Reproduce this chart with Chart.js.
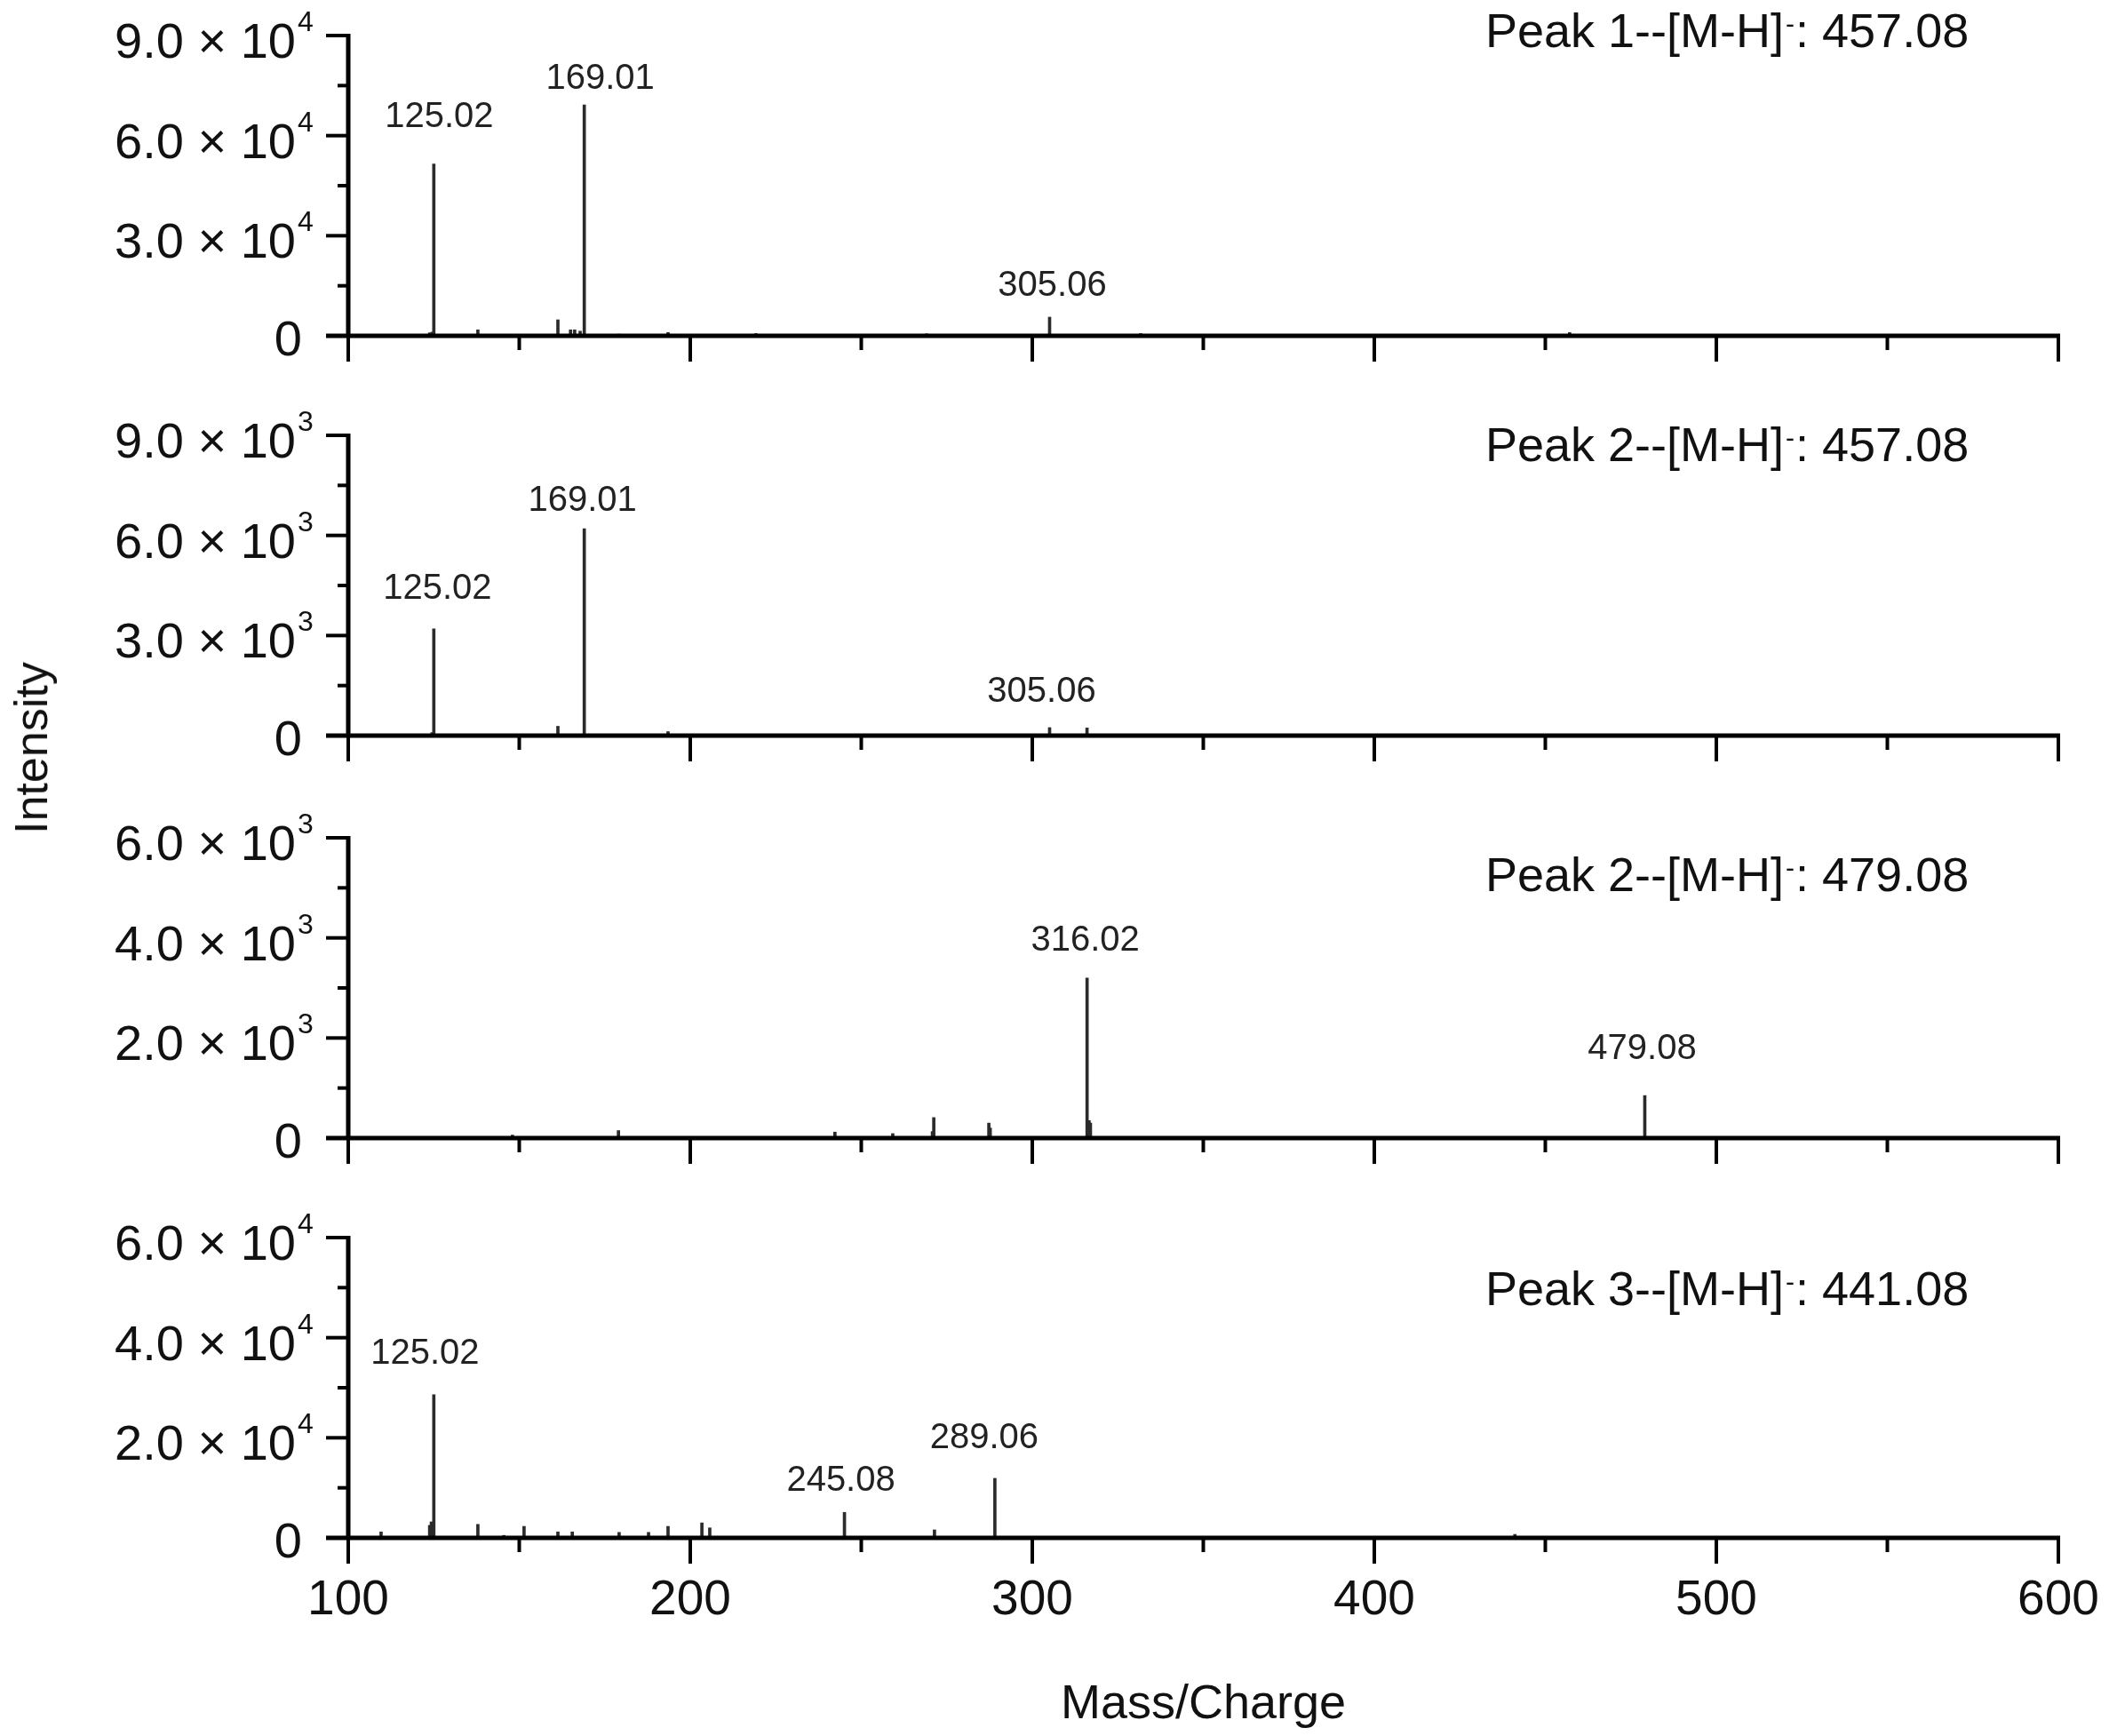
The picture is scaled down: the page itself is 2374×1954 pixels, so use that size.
<!DOCTYPE html>
<html>
<head>
<meta charset="utf-8">
<script src="https://cdn.jsdelivr.net/npm/chart.js@4.4.1/dist/chart.umd.min.js"></script>
<style>
  body { margin: 0; background: #fff; }
  #page { position: relative; width: 2374px; height: 1954px; background: #fff; overflow: hidden; }
  canvas { position: absolute; left: 0; }
  #ylab { position: absolute; left: 35px; top: 842px; transform: translate(-50%, -50%) rotate(-90deg);
          font: 52px 'Liberation Sans', Arial, sans-serif; color: #111; white-space: nowrap; }
</style>
</head>
<body>
<div id="page">
  <canvas id="p1" width="2374" height="451" style="top:0px"></canvas>
  <canvas id="p2" width="2374" height="451" style="top:450px"></canvas>
  <canvas id="p3" width="2374" height="451" style="top:903px"></canvas>
  <canvas id="p4" width="2374" height="601" style="top:1353px"></canvas>
  <div id="ylab">Intensity</div>
</div>
<script>
// spectra (m/z, intensity)
const mz1 = [123.8, 124.5, 125.02, 137.9, 161.3, 165.0, 166.2, 167.8, 169.01, 179.2, 193.5, 219.2, 269.1, 305.06, 319.2, 331.7, 457.1];
const int1 = [900, 1100, 51500, 1800, 4800, 1800, 1800, 1400, 69200, 500, 1000, 700, 600, 5600, 400, 700, 1000];

const mz2 = [124.5, 125.02, 161.3, 169.01, 193.5, 305.06, 316.0];
const int2 = [90, 3200, 280, 6200, 120, 240, 230];

const mz3 = [148.0, 179.0, 242.3, 259.2, 270.8, 271.2, 287.3, 287.7, 316.02, 316.6, 317.0, 479.08];
const int3 = [60, 150, 120, 90, 130, 410, 300, 200, 3200, 350, 300, 850];

const mz4 = [109.6, 123.8, 124.3, 124.7, 125.02, 137.9, 145.5, 151.4, 161.3, 165.5, 179.2, 187.8, 193.5, 203.4, 205.7, 245.08, 271.4, 289.06, 441.1];
const int4 = [1200, 2500, 3200, 3000, 28600, 2700, 500, 2300, 1200, 1200, 1100, 1100, 2300, 3000, 2000, 5100, 1600, 11900, 700];

// labelled peaks
const labels1 = [125.02, 169.01, 305.06];
const labels2 = [125.02, 169.01, 305.06];
const labels3 = [316.02, 479.08];
const labels4 = [125.02, 169.01, 245.08, 289.06];

// y ticks and their power of ten
const yTicks1 = [0, 30000, 60000, 90000];
const yTicks2 = [0, 3000, 6000, 9000];
const yTicks3 = [0, 2000, 4000, 6000];
const yTicks4 = [0, 20000, 40000, 60000];
const yExp = [4, 3, 3, 4];

const xTicks = [100, 200, 300, 400, 500, 600];
const xMinor = [150, 250, 350, 450, 550];

const peakNames = ['Peak 1', 'Peak 2', 'Peak 2', 'Peak 3'];
const ionMz = ['457.08', '457.08', '479.08', '441.08'];

const FONT = "'Liberation Sans', Arial, sans-serif";
Chart.defaults.font.family = FONT;
Chart.defaults.color = '#000';

// label nudges [dx, gap above bar top] and title baseline offset, in px
const nudges = [
  [[6, 42], [18, 18], [3, 24]],
  [[4, 34], [-2, 20], [-9, 29]],
  [[-2, 31], [-3, 41]],
  [[-10, 35], [46, 20], [-4, 24], [-12, 34]]
];
const titleDy = [13, 29, 60, 76];

function seg(ctx, x1, y1, x2, y2) {
  ctx.beginPath();
  ctx.moveTo(x1, y1);
  ctx.lineTo(x2, y2);
  ctx.stroke();
}

const specAxes = {
  id: 'specAxes',
  afterDatasetsDraw(chart, args, o) {
    const ctx = chart.ctx;
    const a = chart.chartArea;
    const x = chart.scales.x;
    const y = chart.scales.y;
    ctx.save();
    ctx.strokeStyle = '#000';
    ctx.lineCap = 'butt';

    // ticks
    ctx.lineWidth = 4;
    o.yTicks.forEach(v => seg(ctx, a.left - 25, y.getPixelForValue(v), a.left, y.getPixelForValue(v)));
    for (let i = 0; i < o.yTicks.length - 1; i++) {
      const py = y.getPixelForValue((o.yTicks[i] + o.yTicks[i + 1]) / 2);
      seg(ctx, a.left - 12, py, a.left, py);
    }
    xTicks.forEach(v => seg(ctx, x.getPixelForValue(v), a.bottom, x.getPixelForValue(v), a.bottom + 29));
    xMinor.forEach(v => seg(ctx, x.getPixelForValue(v), a.bottom, x.getPixelForValue(v), a.bottom + 16));

    // axis lines
    ctx.lineWidth = 5;
    seg(ctx, a.left - 25, a.bottom, a.right + 2, a.bottom);
    seg(ctx, a.left, a.top - 2, a.left, a.bottom);

    // y tick labels  "n.n x 10^e"
    ctx.fillStyle = '#111';
    ctx.textBaseline = 'alphabetic';
    o.yTicks.forEach(v => {
      const py = y.getPixelForValue(v);
      ctx.textAlign = 'right';
      ctx.font = '56px ' + FONT;
      if (v === 0) {
        ctx.fillText('0', a.left - 52, py + 22);
        return;
      }
      const m = (v / Math.pow(10, o.exp)).toFixed(1);
      ctx.fillText(m + ' \u00d7 10', a.left - 59, py + 25);
      ctx.textAlign = 'left';
      ctx.font = '32px ' + FONT;
      ctx.fillText(String(o.exp), a.left - 57, py - 5);
    });

    // panel title
    const tx = 1672;
    const ty = a.top + o.titleDy;
    ctx.textAlign = 'left';
    ctx.font = '54px ' + FONT;
    const head = o.name + '--[M-H]';
    ctx.fillText(head, tx, ty);
    let w = ctx.measureText(head).width;
    ctx.font = '30px ' + FONT;
    ctx.fillText('-', tx + w + 2, ty - 16);
    w += ctx.measureText('-').width + 3;
    ctx.font = '54px ' + FONT;
    ctx.fillText(': ' + o.ion, tx + w, ty);

    // peak labels
    ctx.font = '40px ' + FONT;
    ctx.fillStyle = '#222';
    ctx.textAlign = 'center';
    o.peaks.forEach((p, i) => {
      const k = o.mz.indexOf(p);
      const px = x.getPixelForValue(p);
      const py = y.getPixelForValue(o.ints[k]);
      ctx.fillText(p.toFixed(2), px + o.nudge[i][0], py - o.nudge[i][1]);
    });
    ctx.restore();
  }
};

function makePanel(id, idx, mz, ints, peaks, yTicks, bottomAxis) {
  const canvas = document.getElementById(id);
  const xScale = {
    type: 'linear',
    min: 100,
    max: 600,
    offset: false,
    display: bottomAxis,
    grid: { display: false, drawTicks: false, offset: false },
    border: { display: false },
    ticks: { stepSize: 100, padding: 38, color: '#111', font: { size: 55 } },
    title: {
      display: true,
      text: 'Mass/Charge',
      color: '#111',
      font: { size: 54 },
      padding: { top: 0, bottom: 2 }
    }
  };
  if (bottomAxis) {
    xScale.afterFit = s => {
      s.height = 223;
      s.paddingLeft = 0;
      s.paddingRight = 0;
    };
  }
  new Chart(canvas, {
    type: 'bar',
    data: {
      datasets: [{
        data: mz.map((m, i) => ({ x: m, y: ints[i] })),
        backgroundColor: '#2b2b2b',
        borderWidth: 0,
        barThickness: 3,
        grouped: false
      }]
    },
    options: {
      responsive: false,
      animation: false,
      devicePixelRatio: 1,
      layout: { padding: { left: 392, right: 57, top: 40, bottom: bottomAxis ? 0 : 73 } },
      scales: {
        x: xScale,
        y: { min: 0, max: yTicks[yTicks.length - 1], display: false }
      },
      plugins: {
        legend: { display: false },
        tooltip: { enabled: false },
        specAxes: {
          yTicks: yTicks,
          exp: yExp[idx],
          name: peakNames[idx],
          ion: ionMz[idx],
          titleDy: titleDy[idx],
          peaks: peaks,
          nudge: nudges[idx],
          mz: mz,
          ints: ints
        }
      }
    },
    plugins: [specAxes]
  });
}

makePanel('p1', 0, mz1, int1, labels1, yTicks1, false);
makePanel('p2', 1, mz2, int2, labels2, yTicks2, false);
makePanel('p3', 2, mz3, int3, labels3, yTicks3, false);
makePanel('p4', 3, mz4, int4, labels4, yTicks4, true);
</script>
</body>
</html>
